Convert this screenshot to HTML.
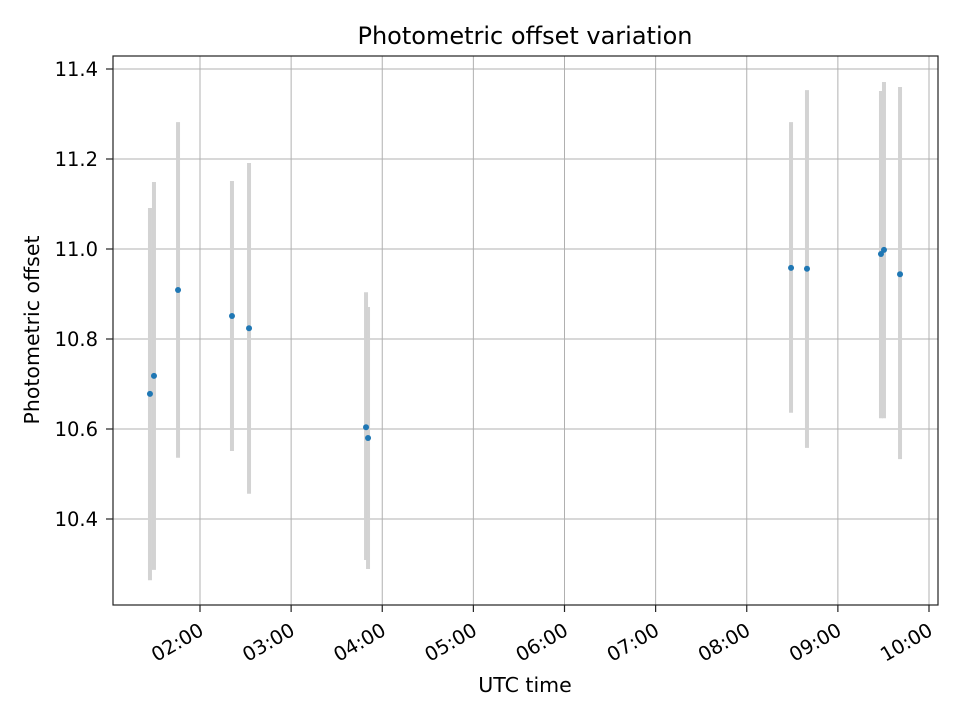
<!DOCTYPE html>
<html><head><meta charset="utf-8"><style>
body{margin:0;background:#fff}
svg{display:block;font-family:"DejaVu Sans","Liberation Sans",sans-serif}
</style></head><body>
<svg id="chart" width="960" height="720" viewBox="0 0 960 720">
<rect width="960" height="720" fill="#fff"/>
<text x="525" y="44" text-anchor="middle" style="font-size:24px">Photometric offset variation</text>
<g id="grid"></g>
<g id="bars"></g>
<g id="pts"></g>
<rect x="113" y="56" width="825" height="549" fill="none" stroke="#222" stroke-width="1.2"/>
<g id="ticks"></g>
<text x="525" y="692" text-anchor="middle" style="font-size:20.5px">UTC time</text>
<text transform="translate(39,330) rotate(-90)" text-anchor="middle" style="font-size:20.5px">Photometric offset</text>
</svg>
<script>
const hours=[1.451,1.495,1.759,2.351,2.538,3.822,3.844,8.486,8.661,9.473,9.506,9.682];
const offsets=[10.678,10.718,10.909,10.851,10.824,10.604,10.580,10.958,10.956,10.989,10.998,10.944];
const errLow=[10.264,10.287,10.536,10.551,10.456,10.309,10.289,10.636,10.558,10.624,10.624,10.533];
const errHigh=[11.091,11.149,11.282,11.151,11.191,10.904,10.871,11.282,11.353,11.351,11.371,11.360];
const xTicks=[2,3,4,5,6,7,8,9,10];
const xTickLabels=["02:00","03:00","04:00","05:00","06:00","07:00","08:00","09:00","10:00"];
const yTicks=[10.4,10.6,10.8,11.0,11.2,11.4];
const yTickLabels=["10.4","10.6","10.8","11.0","11.2","11.4"];
const NS="http://www.w3.org/2000/svg";
const X=h=>200+(h-2)*91.125;
const Y=v=>519-(v-10.4)*450;
function mk(tag,attrs,parent){const e=document.createElementNS(NS,tag);for(const k in attrs)e.setAttribute(k,attrs[k]);parent.appendChild(e);return e;}
const grid=document.getElementById('grid'),ticks=document.getElementById('ticks'),bars=document.getElementById('bars'),pts=document.getElementById('pts');
xTicks.forEach((t,i)=>{const x=X(t);
 const g=mk('line',{x1:x,x2:x,y1:56,y2:605,stroke:'#b0b0b0','stroke-width':1},grid);
 
 const tk=mk('line',{x1:x,x2:x,y1:605,y2:612,stroke:'#222','stroke-width':1.2},ticks);
 
 const tx=mk('text',{x:x+5,y:634,'text-anchor':'end',style:'font-size:19.5px',transform:`rotate(-30 ${x+5} 634)`},ticks);
 tx.textContent=xTickLabels[i];
 });
yTicks.forEach((t,i)=>{const y=Y(t);
 const g=mk('line',{x1:113,x2:938,y1:y,y2:y,stroke:'#b0b0b0','stroke-width':1},grid);
 
 const tk=mk('line',{x1:106,x2:113,y1:y,y2:y,stroke:'#222','stroke-width':1.2},ticks);
 
 const tx=mk('text',{x:98,y:y+7,'text-anchor':'end',style:'font-size:19.5px'},ticks);
 tx.textContent=yTickLabels[i];
 });
hours.forEach((h,i)=>{const x=X(h);
 const b=mk('line',{x1:x,x2:x,y1:Y(errLow[i]),y2:Y(errHigh[i]),stroke:'#d3d3d3','stroke-width':4},bars);
 
 const c=mk('circle',{cx:x,cy:Y(offsets[i]),r:3,fill:'#1f77b4'},pts);
 });
</script>
</body></html>
